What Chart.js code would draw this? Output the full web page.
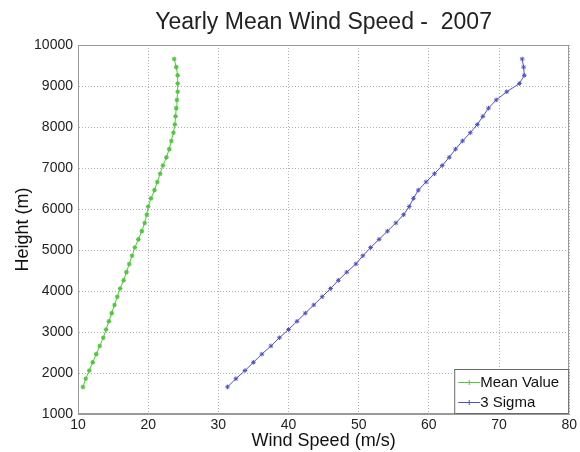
<!DOCTYPE html>
<html>
<head>
<meta charset="utf-8">
<script src="https://cdn.jsdelivr.net/npm/chart.js@4"></script>
<style>
html,body{margin:0;padding:0;background:#fff;}
#wrap{width:580px;height:452px;position:relative;}
</style>
</head>
<body>
<div id="wrap"><canvas id="c" width="580" height="452"></canvas></div>
<script>
const chartTitle = "Yearly Mean Wind Speed -  2007";
const xAxisTitle = "Wind Speed (m/s)";
const yAxisTitle = "Height (m)";
const seriesLabels = ["Mean Value", "3 Sigma"];
const xTicks = [10, 20, 30, 40, 50, 60, 70, 80];
const yTicks = [1000, 2000, 3000, 4000, 5000, 6000, 7000, 8000, 9000, 10000];

const heights = [1660,1860,2060,2260,2460,2660,2860,3060,3260,3460,3660,3860,4060,4260,4460,4660,4860,5060,5260,5460,5660,5860,6060,6260,6460,6660,6860,7060,7260,7460,7660,7860,8060,8260,8460,8660,8860,9060,9260,9460,9660];
const meanValue = [10.7,11.1,11.6,12.1,12.6,13.1,13.6,14.0,14.4,14.8,15.2,15.6,16.0,16.5,16.9,17.3,17.7,18.1,18.6,19.1,19.5,19.8,20.0,20.4,20.9,21.3,21.7,22.1,22.6,23.0,23.3,23.6,23.8,23.9,24.0,24.1,24.2,24.2,24.2,24.0,23.7];
const threeSigma = [31.3,32.5,33.8,35.0,36.2,37.5,38.7,40.0,41.2,42.4,43.6,44.8,46.0,47.1,48.3,49.6,50.6,51.7,52.9,54.1,55.3,56.4,57.2,57.8,58.5,59.6,60.8,61.9,62.9,63.8,64.8,65.9,66.9,67.7,68.5,69.6,71.1,72.9,73.6,73.5,73.3];

const green = 'rgb(80,200,60)';
const blue = 'rgb(80,80,205)';
const FONT = '"Liberation Sans", Arial, Helvetica, sans-serif';

function pts(xs){ return xs.map((v,i)=>({x:v, y:heights[i]})); }

const decor = {
  id:'decor',
  afterDraw(chart){
    const ctx = chart.ctx, a = chart.chartArea;
    ctx.save();
    // box
    ctx.strokeStyle = '#9a9a9a'; ctx.lineWidth = 1;
    ctx.strokeRect(Math.round(a.left)+0.5, Math.round(a.top)+0.5, Math.round(a.right-a.left)-1, Math.round(a.bottom-a.top)-1);
    // title
    ctx.fillStyle = '#222';
    ctx.font = '23px ' + FONT;
    ctx.textAlign = 'center'; ctx.textBaseline = 'alphabetic';
    ctx.fillText(chartTitle, (a.left+a.right)/2, 29);
    // legend
    const lw = 114, lh = 45;
    const lx = a.right - lw - 1, ly = a.bottom - lh;
    ctx.fillStyle = '#fff';
    ctx.fillRect(lx, ly, lw, lh);
    ctx.strokeStyle = '#6a6a6a';
    ctx.strokeRect(lx+0.5, ly+0.5, lw, lh-1);
    const cols = [green, blue];
    ctx.font = '15px ' + FONT;
    ctx.textAlign = 'left'; ctx.textBaseline = 'middle';
    for (let i=0;i<2;i++){
      const yy = ly + 13 + i*20;
      ctx.strokeStyle = cols[i]; ctx.lineWidth = 1;
      ctx.beginPath(); ctx.moveTo(lx+4, yy+0.5); ctx.lineTo(lx+26, yy+0.5); ctx.stroke();
      ctx.beginPath(); ctx.moveTo(lx+15, yy-2); ctx.lineTo(lx+15, yy+3); ctx.stroke();
      ctx.fillStyle = '#111';
      ctx.fillText(seriesLabels[i], lx+26, yy+1);
    }
    ctx.restore();
  }
};

new Chart(document.getElementById('c'), {
  type:'scatter',
  data:{
    datasets:[
      {label:seriesLabels[0], data:pts(meanValue), showLine:true, borderColor:green, backgroundColor:green,
       borderWidth:1, pointStyle:'star', pointRadius:2.3, pointBorderWidth:1.1, pointBorderColor:green},
      {label:seriesLabels[1], data:pts(threeSigma), showLine:true, borderColor:blue, backgroundColor:blue,
       borderWidth:1, pointStyle:'star', pointRadius:2.3, pointBorderWidth:1, pointBorderColor:blue}
    ]
  },
  options:{
    responsive:false, animation:false,
    layout:{padding:{left:0,right:3,top:45,bottom:0}},
    plugins:{legend:{display:false}, title:{display:false}, tooltip:{enabled:false}},
    scales:{
      x:{
        type:'linear', min:10, max:80,
        afterBuildTicks(s){ s.ticks = xTicks.map(v=>({value:v})); },
        ticks:{color:'#222', font:{family:FONT, size:14}, padding:3, maxRotation:0, callback:v=>String(v)},
        grid:{color:'#b0b0b0', lineWidth:1, drawTicks:false},
        border:{display:true, color:'#9a9a9a', dash:[1,2]},
        title:{display:true, text:xAxisTitle, color:'#111', font:{family:FONT, size:18}, padding:{top:0,bottom:0}},
        afterFit(s){ s.height = 38; }
      },
      y:{
        type:'linear', min:1000, max:10000,
        afterBuildTicks(s){ s.ticks = yTicks.map(v=>({value:v})); },
        ticks:{color:'#222', font:{family:FONT, size:14}, padding:5, callback:v=>String(v)},
        grid:{color:'#b0b0b0', lineWidth:1, drawTicks:false},
        border:{display:true, color:'#9a9a9a', dash:[1,2]},
        title:{display:true, text:yAxisTitle, color:'#111', font:{family:FONT, size:18}, padding:{top:12,bottom:0}},
        afterFit(s){ s.width = 78; }
      }
    }
  },
  plugins:[decor]
});
</script>
</body>
</html>
